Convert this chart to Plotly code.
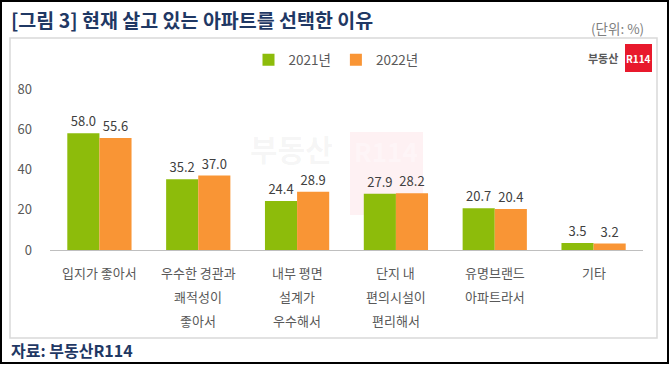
import plotly.graph_objects as go

# ---- data ----
categories = ["입지가 좋아서", "우수한 경관과\n쾌적성이\n좋아서", "내부 평면\n설계가\n우수해서",
              "단지 내\n편의시설이\n편리해서", "유명브랜드\n아파트라서", "기타"]
series_names = ["2021년", "2022년"]
values_2021 = [58.0, 35.2, 24.4, 27.9, 20.7, 3.5]
values_2022 = [55.6, 37.0, 28.9, 28.2, 20.4, 3.2]
y_ticks = [0, 20, 40, 60, 80]

title_text = "[그림 3] 현재 살고 있는 아파트를 선택한 이유"
unit_text = "(단위: %)"
source_text = "자료: 부동산R114"

GREEN = "#8DBC0B"
ORANGE = "#F99535"
FONT = "Noto Sans CJK KR"

W, H = 670, 370
PL, PR, PT, PB = 50, 643, 89, 250

def px_x(x):
    return (x - PL) / (PR - PL)

def px_y(y):
    return (PB - y) / (PB - PT)

keys = list(range(len(categories)))

fig = go.Figure()
for name, vals, col in [(series_names[0], values_2021, GREEN), (series_names[1], values_2022, ORANGE)]:
    fig.add_trace(go.Bar(
        x=keys, y=vals, name=name, marker=dict(color=col, line=dict(width=0)),
        text=[f"{v:.1f}" for v in vals], textposition="outside",
        textfont=dict(family=FONT, size=13, color="#404040"),
        cliponaxis=False,
    ))

annotations = []
# category labels (multi-line, wide line spacing)
for k, cat in zip(keys, categories):
    for i, line in enumerate(cat.split("\n")):
        annotations.append(dict(
            x=k, xref="x", y=px_y(272 + 24 * i), yref="paper",
            text=line, showarrow=False, xanchor="center", yanchor="middle",
            font=dict(family=FONT, size=13, color="#595959")))

annotations += [
    dict(x=px_x(9), y=px_y(19), xref="paper", yref="paper", text=f"<b>{title_text}</b>",
         showarrow=False, xanchor="left", yanchor="middle",
         font=dict(family=FONT, size=19.5, color="#1F3864")),
    dict(x=px_x(646), y=px_y(28), xref="paper", yref="paper", text=unit_text,
         showarrow=False, xanchor="right", yanchor="middle",
         font=dict(family=FONT, size=13.5, color="#7F7F7F")),
    dict(x=px_x(9), y=px_y(350), xref="paper", yref="paper", text=f"<b>{source_text}</b>",
         showarrow=False, xanchor="left", yanchor="middle",
         font=dict(family=FONT, size=16, color="#1F3864")),
    # logo
    dict(x=px_x(620), y=px_y(58), xref="paper", yref="paper", text="<b>부동산</b>",
         showarrow=False, xanchor="right", yanchor="middle",
         font=dict(family=FONT, size=11, color="#595959")),
    dict(x=px_x(638.5), y=px_y(58), xref="paper", yref="paper", text="<b>R114</b>",
         showarrow=False, xanchor="center", yanchor="middle",
         font=dict(family=FONT, size=10, color="#FFFFFF")),
    # watermark
    dict(x=px_x(291), y=px_y(148), xref="paper", yref="paper", text="<b>부동산</b>",
         showarrow=False, xanchor="center", yanchor="middle",
         font=dict(family=FONT, size=30, color="rgba(120,120,120,0.07)")),
    dict(x=px_x(386), y=px_y(150), xref="paper", yref="paper", text="<b>R114</b>",
         showarrow=False, xanchor="center", yanchor="middle",
         font=dict(family=FONT, size=26, color="rgba(255,255,255,0.35)")),
]

shapes = [
    # outer black frame
    dict(type="rect", xref="paper", yref="paper", x0=px_x(1), x1=px_x(668), y0=px_y(363), y1=px_y(1),
         line=dict(color="#000000", width=2), fillcolor="rgba(0,0,0,0)", layer="below"),
    # inner panel
    dict(type="rect", xref="paper", yref="paper", x0=px_x(10), x1=px_x(657), y0=px_y(338), y1=px_y(38),
         line=dict(color="#D9D9D9", width=1.5), fillcolor="rgba(0,0,0,0)", layer="below"),
    # logo red box
    dict(type="rect", xref="paper", yref="paper", x0=px_x(625), x1=px_x(652), y0=px_y(72), y1=px_y(44),
         line=dict(width=0), fillcolor="#E8192C", layer="above"),
    # watermark red box
    dict(type="rect", xref="paper", yref="paper", x0=px_x(350), x1=px_x(423), y0=px_y(215), y1=px_y(132),
         line=dict(width=0), fillcolor="rgba(232,25,44,0.06)", layer="below"),
]

fig.update_layout(
    width=W, height=H,
    margin=dict(l=PL, r=W - PR, t=PT, b=H - PB, pad=0),
    paper_bgcolor="white", plot_bgcolor="rgba(0,0,0,0)",
    barmode="group", bargap=0.35, bargroupgap=0,
    showlegend=True,
    legend=dict(orientation="h", x=px_x(336), xanchor="center", y=px_y(60), yanchor="middle",
                font=dict(family=FONT, size=13.5, color="#595959"), bgcolor="rgba(0,0,0,0)",
                itemwidth=30, traceorder="normal"),
    font=dict(family=FONT),
    annotations=annotations,
    shapes=shapes,
    xaxis=dict(range=[-0.5, len(categories) - 0.5], showticklabels=False, ticks="",
               showgrid=False, zeroline=False, showline=False, fixedrange=True),
    yaxis=dict(range=[0, 80], tickvals=y_ticks, ticktext=[str(t) for t in y_ticks],
               showgrid=False, zeroline=True, zerolinecolor="#BFBFBF", zerolinewidth=1,
               showline=False, ticks="", ticklabelstandoff=17, fixedrange=True,
               tickfont=dict(family=FONT, size=13, color="#595959")),
)

fig.write_html("out.html", config={"displayModeBar": False, "staticPlot": True},
               post_script="document.body.style.margin='0';document.body.style.overflow='hidden';")
